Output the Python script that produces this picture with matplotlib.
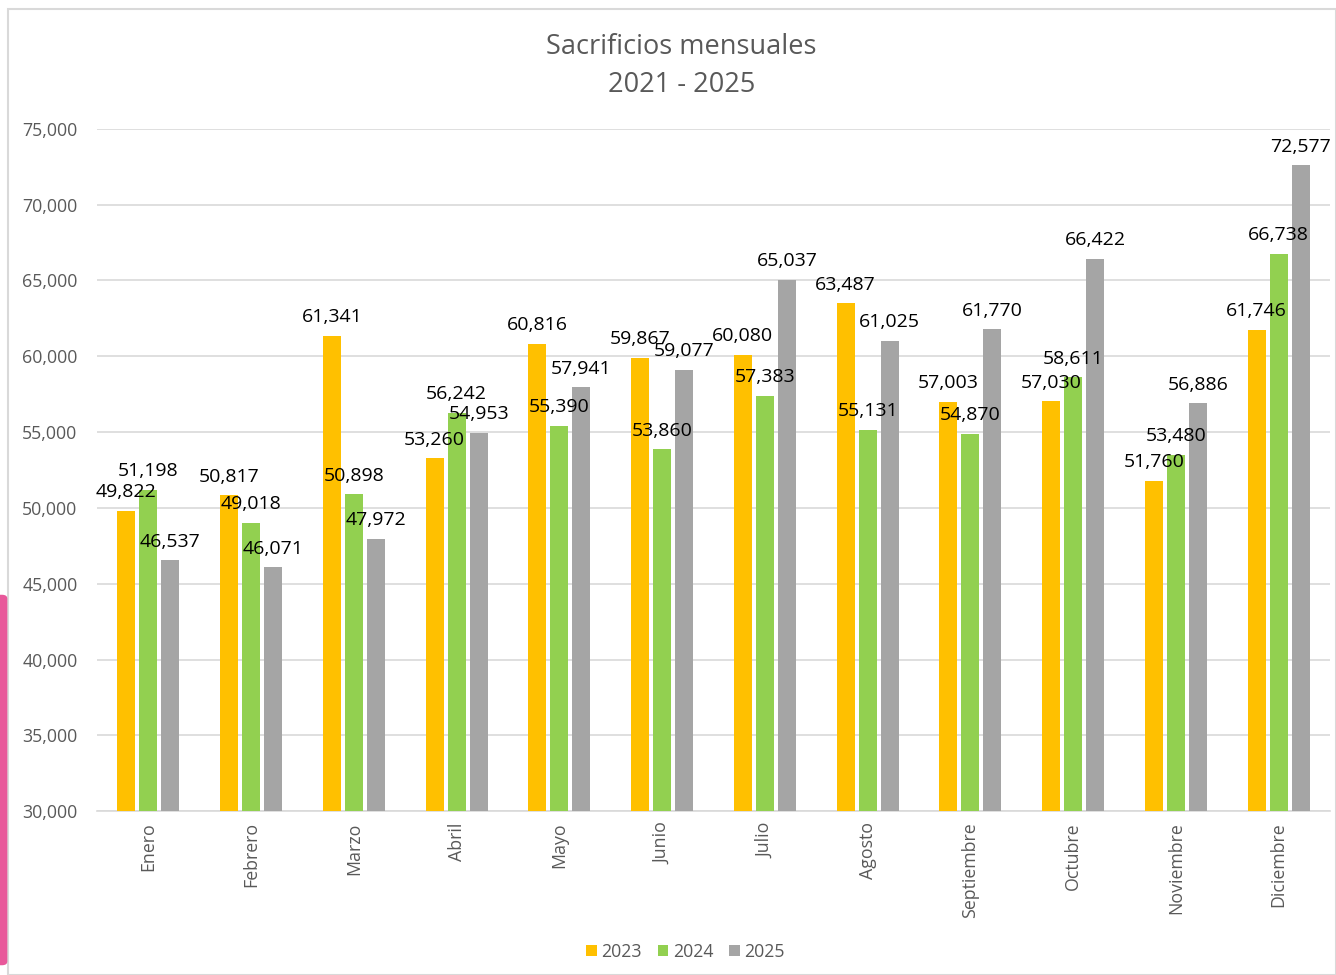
import matplotlib.pyplot as plt
import matplotlib.patches as mpatches
import numpy as np

meses = ["Enero", "Febrero", "Marzo", "Abril", "Mayo", "Junio", "Julio",
         "Agosto", "Septiembre", "Octubre", "Noviembre", "Diciembre"]
v2023 = [49822, 50817, 61341, 53260, 60816, 59867, 60080, 63487, 57003, 57030, 51760, 61746]
v2024 = [51198, 49018, 50898, 56242, 55390, 53860, 57383, 55131, 54870, 58611, 53480, 66738]
v2025 = [46537, 46071, 47972, 54953, 57941, 59077, 65037, 61025, 61770, 66422, 56886, 72577]
series = [("2023", v2023, "#FFC000"), ("2024", v2024, "#92D050"), ("2025", v2025, "#A5A5A5")]

plt.rcParams['font.family'] = ['Open Sans', 'DejaVu Sans']
gris = "#595959"

fig = plt.figure(figsize=(13.36, 9.75), dpi=100)
ax = fig.add_axes([0.0726, 0.168, 0.9229, 0.700])

x = np.arange(len(meses))
ancho = 0.175
paso = 0.215
for i, (nombre, vals, color) in enumerate(series):
    pos = x + (i - 1) * paso
    bars = ax.bar(pos, vals, width=ancho, color=color, label=nombre, zorder=3)
    for b, v in zip(bars, vals):
        ax.annotate(f"{v:,}", (b.get_x() + b.get_width() / 2, v),
                    xytext=(0, 7), textcoords="offset points",
                    ha="center", va="bottom", fontsize=14, color="black",
                    zorder=5, annotation_clip=False)

ax.set_xlim(-0.5, len(meses) - 0.5)
ax.set_ylim(30000, 75000)
ax.set_yticks(np.arange(30000, 75001, 5000))
ax.yaxis.set_major_formatter(plt.FuncFormatter(lambda v, p: f"{int(v):,}"))
ax.set_xticks(x)
ax.set_xticklabels(meses, rotation=90)
ax.tick_params(axis="both", length=0, colors=gris, labelsize=12.8)
ax.tick_params(axis="y", pad=14)
ax.tick_params(axis="x", pad=8)
ax.grid(axis="y", color="#D9D9D9", linewidth=1.2, zorder=0)
for s in ["top", "right", "left"]:
    ax.spines[s].set_visible(False)
ax.spines["bottom"].set_color("#D9D9D9")
ax.spines["bottom"].set_linewidth(1.2)

fig.text(0.51, 0.952, "Sacrificios mensuales", ha="center", va="center", fontsize=19.5, color=gris)
fig.text(0.51, 0.913, "2021 - 2025", ha="center", va="center", fontsize=19.5, color=gris)

fig.legend(loc="center", bbox_to_anchor=(0.513, 0.024), ncol=3, frameon=False,
           fontsize=12.8, labelcolor=gris, handlelength=0.6, handleheight=0.6,
           handletextpad=0.25, columnspacing=0.9)

# marco del grafico y franja rosa del borde
fig.patches.append(mpatches.Rectangle((0.006, 0.0), 0.994, 0.991, transform=fig.transFigure,
                                      fill=False, edgecolor="#D9D9D9", linewidth=1.5))
fig.patches.append(mpatches.FancyBboxPatch((-0.004, 0.01), 0.0095, 0.38, transform=fig.transFigure,
                                           boxstyle="round,pad=0,rounding_size=0.004",
                                           facecolor="#E8589A", edgecolor="none"))

fig.savefig("out.png", dpi=100)
